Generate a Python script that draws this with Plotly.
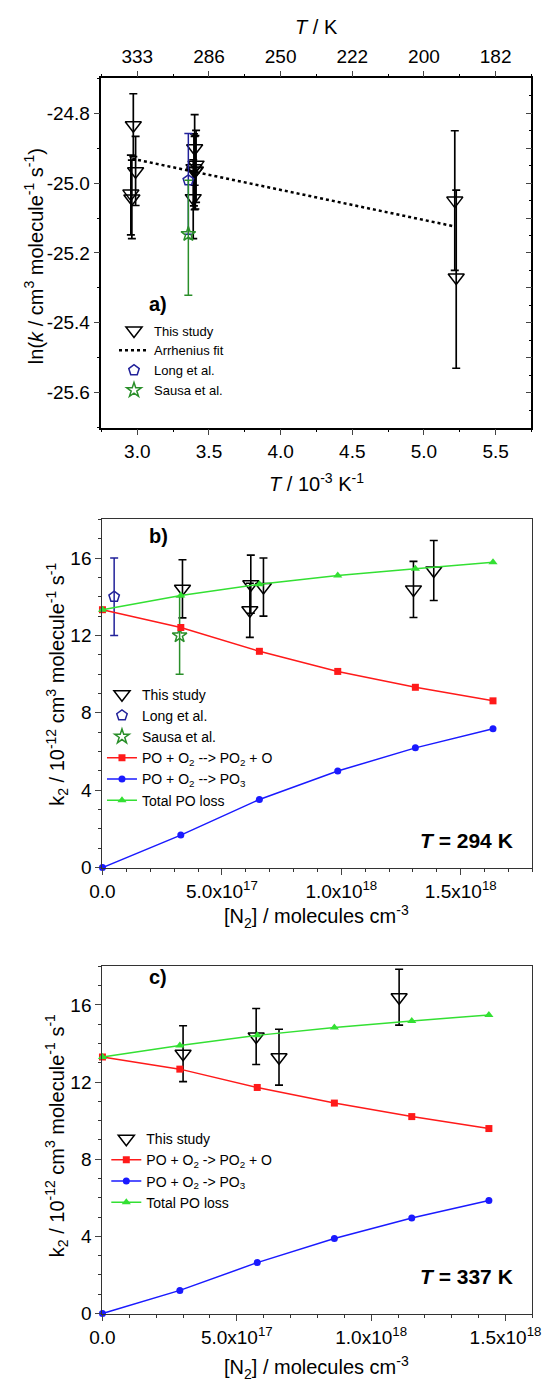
import plotly.graph_objects as go

# ---------------- Panel a data ----------------
inv_T_this = [2.972, 2.988, 2.955, 2.962, 3.400, 3.410, 3.395, 3.405, 3.400, 3.390, 5.215, 5.225]
lnk_this = [-24.834, -24.966, -25.030, -25.044, -24.900, -24.947, -24.957, -24.964, -24.966, -25.043, -25.050, -25.270]
lnk_err_plus = [0.090, 0.100, 0.110, 0.110, 0.096, 0.098, 0.098, 0.100, 0.100, 0.110, 0.200, 0.250]
lnk_err_minus = [0.090, 0.098, 0.118, 0.115, 0.106, 0.108, 0.108, 0.110, 0.110, 0.116, 0.200, 0.260]

arr_x = [2.964, 5.214]
arr_y = [-24.930, -25.124]

long_a_x = [3.356]
long_a_y = [-24.992]
long_a_plus = [0.134]
long_a_minus = [0.154]

sausa_a_x = [3.356]
sausa_a_y = [-25.146]
sausa_a_plus = [0.154]
sausa_a_minus = [0.175]

invT_ticks = [3.0, 3.5, 4.0, 4.5, 5.0, 5.5]
invT_ticktext = ["3.0", "3.5", "4.0", "4.5", "5.0", "5.5"]
T_ticktext = ["333", "286", "250", "222", "200", "182"]
invT_minor = [2.75, 3.25, 3.75, 4.25, 4.75, 5.25, 5.75]
lnk_ticks = [-24.8, -25.0, -25.2, -25.4, -25.6]
lnk_ticktext = ["-24.8", "-25.0", "-25.2", "-25.4", "-25.6"]

# ---------------- Panel b data (T = 294 K) ----------------
n2_b_model = [0, 3.28e17, 6.57e17, 9.85e17, 1.31e18, 1.635e18]
po2_b = [13.33, 12.41, 11.18, 10.14, 9.32, 8.62]
po3_b = [0.0, 1.68, 3.52, 4.99, 6.19, 7.18]
total_b = [13.33, 14.07, 14.64, 15.10, 15.45, 15.78]

n2_b_this = [3.35e17, 6.21e17, 6.17e17, 6.74e17, 1.302e18, 1.387e18]
k2_b_this = [14.41, 14.65, 13.30, 14.50, 14.38, 15.36]
k2_b_err = [1.50, 1.50, 1.40, 1.50, 1.45, 1.55]

long_b_x = [0.49e17]
long_b_y = [14.0]
long_b_err = [2.0]
sausa_b_x = [3.23e17]
sausa_b_y = [12.0]
sausa_b_err = [2.0]

# ---------------- Panel c data (T = 337 K) ----------------
n2_c_model = [0, 2.88e17, 5.76e17, 8.63e17, 1.151e18, 1.438e18]
po2_c = [13.30, 12.67, 11.72, 10.91, 10.21, 9.59]
po3_c = [0.0, 1.20, 2.64, 3.89, 4.95, 5.86]
total_c = [13.30, 13.90, 14.42, 14.83, 15.17, 15.48]

n2_c_this = [3.0e17, 5.72e17, 6.57e17, 1.104e18]
k2_c_this = [13.47, 14.36, 13.29, 16.40]
k2_c_err = [1.45, 1.45, 1.45, 1.45]

k2_ticks = [0, 4, 8, 12, 16]
n2_ticks = [0, 5e17, 1e18, 1.5e18]
n2_ticktext = ["0.0", "5.0x10<sup>17</sup>", "1.0x10<sup>18</sup>", "1.5x10<sup>18</sup>"]

# ---------------- styling ----------------
W, H = 551, 1394
FONT = "Liberation Sans, Arial, sans-serif"
RED, BLUE, GREEN = "#ff1a1a", "#1a1aff", "#33e033"
LONG_C, SAUSA_C = "#22229a", "#2a8f2a"


def fx(p):
    return p / W


def fy(p):
    return 1 - p / H


fig = go.Figure()

TRI = dict(symbol="triangle-down-open", size=14, color="black", line=dict(width=1.5))
PENT = dict(symbol="pentagon-open", size=11, color=LONG_C, line=dict(width=1.5))
STAR = dict(symbol="star-open", size=11, color=SAUSA_C, line=dict(width=1.5))

# ---- panel a traces ----
fig.add_trace(go.Scatter(
    x=inv_T_this, y=lnk_this, mode="markers", name="This study",
    xaxis="x", yaxis="y", legend="legend", cliponaxis=False, marker=TRI,
    error_y=dict(type="data", symmetric=False, array=lnk_err_plus, arrayminus=lnk_err_minus,
                 color="black", thickness=1.7, width=4)))
# the fit is drawn on the mirrored (top / right) axes, which share the same ranges
fig.add_trace(go.Scatter(
    x=arr_x, y=arr_y, mode="lines", name="Arrhenius fit",
    xaxis="x2", yaxis="y2", legend="legend",
    line=dict(color="black", width=2.5, dash="dot")))
fig.add_trace(go.Scatter(
    x=long_a_x, y=long_a_y, mode="markers", name="Long et al.",
    xaxis="x", yaxis="y", legend="legend", marker=PENT,
    error_y=dict(type="data", symmetric=False, array=long_a_plus, arrayminus=long_a_minus,
                 color=LONG_C, thickness=1.5, width=4)))
fig.add_trace(go.Scatter(
    x=sausa_a_x, y=sausa_a_y, mode="markers", name="Sausa et al.",
    xaxis="x", yaxis="y", legend="legend", marker=STAR,
    error_y=dict(type="data", symmetric=False, array=sausa_a_plus, arrayminus=sausa_a_minus,
                 color=SAUSA_C, thickness=1.5, width=4)))

# ---- panel b traces ----
fig.add_trace(go.Scatter(
    x=n2_b_this, y=k2_b_this, mode="markers", name="This study",
    xaxis="x3", yaxis="y3", legend="legend2", cliponaxis=False, marker=TRI,
    error_y=dict(type="data", array=k2_b_err, color="black", thickness=1.6, width=4)))
fig.add_trace(go.Scatter(
    x=long_b_x, y=long_b_y, mode="markers", name="Long et al.",
    xaxis="x3", yaxis="y3", legend="legend2", cliponaxis=False, marker=PENT,
    error_y=dict(type="data", array=long_b_err, color=LONG_C, thickness=1.5, width=4)))
fig.add_trace(go.Scatter(
    x=sausa_b_x, y=sausa_b_y, mode="markers", name="Sausa et al.",
    xaxis="x3", yaxis="y3", legend="legend2", cliponaxis=False, marker=STAR,
    error_y=dict(type="data", array=sausa_b_err, color=SAUSA_C, thickness=1.5, width=4)))
fig.add_trace(go.Scatter(
    x=n2_b_model, y=po2_b, mode="lines+markers",
    name="PO + O<sub>2</sub> --> PO<sub>2</sub> + O",
    xaxis="x3", yaxis="y3", legend="legend2", cliponaxis=False,
    line=dict(color=RED, width=1.5), marker=dict(symbol="square", size=7, color=RED)))
fig.add_trace(go.Scatter(
    x=n2_b_model, y=po3_b, mode="lines+markers",
    name="PO + O<sub>2</sub> --> PO<sub>3</sub>",
    xaxis="x3", yaxis="y3", legend="legend2", cliponaxis=False,
    line=dict(color=BLUE, width=1.5), marker=dict(symbol="circle", size=7, color=BLUE)))
fig.add_trace(go.Scatter(
    x=n2_b_model, y=total_b, mode="lines+markers", name="Total PO loss",
    xaxis="x3", yaxis="y3", legend="legend2", cliponaxis=False,
    line=dict(color=GREEN, width=1.5), marker=dict(symbol="triangle-up", size=8, color=GREEN)))

# ---- panel c traces ----
fig.add_trace(go.Scatter(
    x=n2_c_this, y=k2_c_this, mode="markers", name="This study",
    xaxis="x4", yaxis="y4", legend="legend3", cliponaxis=False, marker=TRI,
    error_y=dict(type="data", array=k2_c_err, color="black", thickness=1.6, width=4)))
fig.add_trace(go.Scatter(
    x=n2_c_model, y=po2_c, mode="lines+markers",
    name="PO + O<sub>2</sub> -> PO<sub>2</sub> + O",
    xaxis="x4", yaxis="y4", legend="legend3", cliponaxis=False,
    line=dict(color=RED, width=1.5), marker=dict(symbol="square", size=7, color=RED)))
fig.add_trace(go.Scatter(
    x=n2_c_model, y=po3_c, mode="lines+markers",
    name="PO + O<sub>2</sub> -> PO<sub>3</sub>",
    xaxis="x4", yaxis="y4", legend="legend3", cliponaxis=False,
    line=dict(color=BLUE, width=1.5), marker=dict(symbol="circle", size=7, color=BLUE)))
fig.add_trace(go.Scatter(
    x=n2_c_model, y=total_c, mode="lines+markers", name="Total PO loss",
    xaxis="x4", yaxis="y4", legend="legend3", cliponaxis=False,
    line=dict(color=GREEN, width=1.5), marker=dict(symbol="triangle-up", size=8, color=GREEN)))

TICKFONT = dict(family=FONT, size=19, color="black")

common_ax = dict(showgrid=False, zeroline=False, showline=True, ticks="outside",
                 ticklen=6, tickwidth=1.3, tickfont=TICKFONT)

ax_a = [fx(92), fx(539)]
ay_a = [fy(431), fy(79)]
ax_b = [fx(93), fx(540)]
ay_b = [fy(874.5), fy(523.5)]
ax_c = [fx(93), fx(540)]
ay_c = [fy(1324), fy(974)]

layout = dict(
    width=W, height=H, margin=dict(l=0, r=0, t=0, b=0),
    paper_bgcolor="white", plot_bgcolor="white",
    font=dict(family=FONT, color="black"),
    # ---- panel a ----
    xaxis=dict(domain=ax_a, anchor="y", range=[2.75, 5.75], tickvals=invT_ticks,
               ticktext=invT_ticktext, linecolor="black", linewidth=1.5,
               minor=dict(tickvals=invT_minor, ticklen=3, ticks="outside", tickcolor="black"),
               **common_ax),
    xaxis2=dict(domain=ax_a, anchor="y2", overlaying="x", side="top", range=[2.75, 5.75],
                tickvals=invT_ticks, ticktext=T_ticktext, linecolor="black", linewidth=1.5,
                minor=dict(tickvals=invT_minor, ticklen=3, ticks="outside", tickcolor="black"),
                **common_ax),
    yaxis=dict(domain=ay_a, anchor="x", range=[-25.7, -24.7], tickvals=lnk_ticks,
               ticktext=lnk_ticktext, linecolor="black", linewidth=1.5,
               minor=dict(dtick=0.1, tick0=-25.7, ticklen=3, ticks="outside", tickcolor="black"),
               **common_ax),
    yaxis2=dict(domain=ay_a, anchor="x2", overlaying="y", side="right", range=[-25.7, -24.7],
                showgrid=False, zeroline=False, showline=True, linecolor="black", linewidth=1.5,
                ticks="inside", ticklen=6, tickwidth=1.3, dtick=0.1, tick0=-25.7,
                showticklabels=False,
                minor=dict(dtick=0.05, ticklen=3, ticks="inside", tickcolor="black")),
    # ---- panel b ----
    xaxis3=dict(domain=ax_b, anchor="y3", range=[0, 1.8e18], tickvals=n2_ticks,
                ticktext=n2_ticktext, mirror=True, linecolor="#333333", linewidth=1.3,
                minor=dict(dtick=1e17, tick0=0, ticklen=3, ticks="outside", tickcolor="#333333"),
                **common_ax),
    yaxis3=dict(domain=ay_b, anchor="x3", range=[0, 18], tickvals=k2_ticks,
                mirror=True, linecolor="#333333", linewidth=1.3,
                minor=dict(dtick=1, tick0=0, ticklen=3, ticks="outside", tickcolor="#333333"),
                **common_ax),
    # ---- panel c ----
    xaxis4=dict(domain=ax_c, anchor="y4", range=[0, 1.6e18], tickvals=n2_ticks,
                ticktext=n2_ticktext, mirror=True, linecolor="#333333", linewidth=1.3,
                minor=dict(dtick=1e17, tick0=0, ticklen=3, ticks="outside", tickcolor="#333333"),
                **common_ax),
    yaxis4=dict(domain=ay_c, anchor="x4", range=[0, 18], tickvals=k2_ticks,
                mirror=True, linecolor="#333333", linewidth=1.3,
                minor=dict(dtick=1, tick0=0, ticklen=3, ticks="outside", tickcolor="#333333"),
                **common_ax),
    legend=dict(x=fx(105), y=fy(318), xanchor="left", yanchor="top",
                bgcolor="rgba(0,0,0,0)", font=dict(family=FONT, size=13)),
    legend2=dict(x=fx(92.5), y=fy(684), xanchor="left", yanchor="top",
                 bgcolor="rgba(0,0,0,0)", font=dict(family=FONT, size=14)),
    legend3=dict(x=fx(97), y=fy(1132), xanchor="left", yanchor="top",
                 bgcolor="rgba(0,0,0,0)", font=dict(family=FONT, size=14)),
    showlegend=True,
)
fig.update_layout(**layout)

TITLE_FONT = dict(family=FONT, size=20, color="black")
annots = [
    dict(text="<i>T</i> / K", x=fx(316), y=fy(27)),
    dict(text="<i>T</i> / 10<sup>-3</sup> K<sup>-1</sup>", x=fx(316), y=fy(486)),
    dict(text="ln(<i>k</i> / cm<sup>3</sup> molecule<sup>-1</sup> s<sup>-1</sup>)",
         x=fx(22), y=fy(258), textangle=-90),
    dict(text="[N<sub>2</sub>] / molecules cm<sup>-3</sup>", x=fx(316), y=fy(924)),
    dict(text="k<sub>2</sub> / 10<sup>-12</sup> cm<sup>3</sup> molecule<sup>-1</sup> s<sup>-1</sup>",
         x=fx(46), y=fy(690), textangle=-90),
    dict(text="[N<sub>2</sub>] / molecules cm<sup>-3</sup>", x=fx(316), y=fy(1378)),
    dict(text="k<sub>2</sub> / 10<sup>-12</sup> cm<sup>3</sup> molecule<sup>-1</sup> s<sup>-1</sup>",
         x=fx(46), y=fy(1145), textangle=-90),
]
for a in annots:
    fig.add_annotation(xref="paper", yref="paper", showarrow=False,
                       xanchor="center", yanchor="middle", font=TITLE_FONT, **a)

BOLD = dict(family=FONT, size=20, color="black")
fig.add_annotation(text="<b>a)</b>", x=fx(139), y=fy(293), xref="paper", yref="paper",
                   showarrow=False, font=BOLD)
fig.add_annotation(text="<b>b)</b>", x=fx(139), y=fy(540), xref="paper", yref="paper",
                   showarrow=False, font=BOLD)
fig.add_annotation(text="<b>c)</b>", x=fx(139), y=fy(998), xref="paper", yref="paper",
                   showarrow=False, font=BOLD)
fig.add_annotation(text="<b><i>T</i> = 294 K</b>", x=fx(522), y=fy(847), xref="paper",
                   yref="paper", xanchor="right", showarrow=False,
                   font=dict(family=FONT, size=21, color="black"))
fig.add_annotation(text="<b><i>T</i> = 337 K</b>", x=fx(522), y=fy(1300), xref="paper",
                   yref="paper", xanchor="right", showarrow=False,
                   font=dict(family=FONT, size=21, color="black"))

fig.write_html("out.html")
